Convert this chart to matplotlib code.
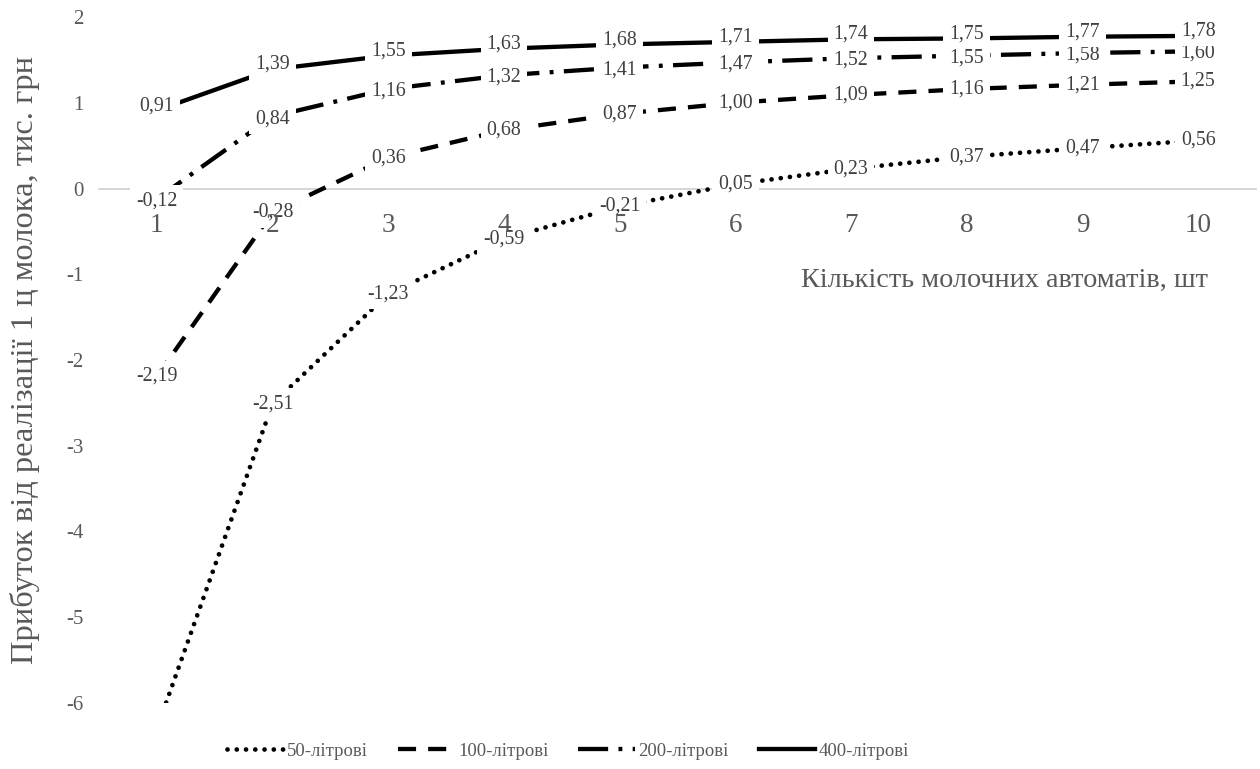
import matplotlib
matplotlib.use("Agg")
import matplotlib.pyplot as plt
from matplotlib.lines import Line2D

# ---- data ----
machines = [1, 2, 3, 4, 5, 6, 7, 8, 9, 10]
v50 = [-6.30, -2.51, -1.23, -0.59, -0.21, 0.05, 0.23, 0.37, 0.47, 0.56]
v100 = [-2.19, -0.28, 0.36, 0.68, 0.87, 1.00, 1.09, 1.16, 1.21, 1.25]
v200 = [-0.12, 0.84, 1.16, 1.32, 1.41, 1.47, 1.52, 1.55, 1.58, 1.60]
v400 = [0.91, 1.39, 1.55, 1.63, 1.68, 1.71, 1.74, 1.75, 1.77, 1.78]
series_names = ["50-літрові", "100-літрові", "200-літрові", "400-літрові"]
y_ticks = [2, 1, 0, -1, -2, -3, -4, -5, -6]
x_title = "Кількість молочних автоматів, шт"
y_title = "Прибуток від реалізації 1 ц молока, тис. грн"

plt.rcParams['font.family'] = ['Liberation Serif', 'DejaVu Serif']

W, H = 1260, 769
fig = plt.figure(figsize=(W / 100, H / 100), dpi=100)
left, right, top, bottom = 99 / W, 1256 / W, 1 - 17 / H, 1 - 703 / H
ax = fig.add_axes([left, bottom, right - left, top - bottom])

GRAY = '#595959'
LBL = '#404040'
lw = 3.1

styles = [
    dict(linestyle=(0, (0.01, 1.95)), dash_capstyle='round', lw=lw + 0.3),
    dict(linestyle=(0, (4.2, 2.8)), dash_capstyle='butt', lw=lw),
    dict(linestyle=(0, (7.0, 2.4, 0.9, 2.4)), dash_capstyle='butt', lw=lw),
    dict(linestyle='-', dash_capstyle='butt', lw=lw),
]
label_dy = [0, 0, -1.5, 3.5]   # small vertical label offsets (points)
all_vals = [v50, v100, v200, v400]

for vals, st, name, dy in zip(all_vals, styles, series_names, label_dy):
    ax.plot(machines, vals, color='black', zorder=3, label=name,
            solid_capstyle='butt', **st)
    for xv, yv in zip(machines, vals):
        ax.annotate(f"{yv:.2f}".replace('.', ','), (xv, yv), xytext=(0, dy),
                    textcoords='offset points', ha='center', va='center',
                    fontsize=14.3, color=LBL, zorder=4, annotation_clip=True,
                    bbox=dict(boxstyle='square,pad=0.3', fc='white', ec='none'))

ax.set_xlim(0.5, 10.5)
ax.set_ylim(-6, 2)
ax.set_xticks(machines)
ax.set_xticklabels([str(m) for m in machines])
ax.set_yticks(y_ticks)
ax.set_yticklabels([str(t) for t in y_ticks])

for s in ['top', 'right', 'left']:
    ax.spines[s].set_visible(False)
ax.spines['bottom'].set_position(('data', 0))
ax.spines['bottom'].set_color('#d0d0d0')
ax.spines['bottom'].set_linewidth(1.2)
ax.spines['bottom'].set_zorder(1)

ax.tick_params(axis='x', length=0, pad=18, labelsize=19.5, labelcolor=GRAY)
ax.tick_params(axis='y', length=0, pad=11, labelsize=15, labelcolor=GRAY)
ax.xaxis.set_zorder(5)
ax.set_facecolor('none')

fig.text(25 / W, 1 - 360 / H, y_title, rotation=90, ha='center', va='center',
         fontsize=23.4, color=GRAY)
fig.text(1208 / W, 1 - 280 / H, x_title, ha='right', va='center',
         fontsize=20.3, color=GRAY)

handles = [Line2D([0], [0], color='black', **st) for st in styles]
fig.legend(handles, series_names, loc='center', bbox_to_anchor=(568 / W, 1 - 751 / H),
           ncol=4, frameon=False, fontsize=13.5, labelcolor=GRAY,
           handlelength=3.0, handletextpad=0.2, columnspacing=1.6)

fig.savefig('out.png', dpi=100)
